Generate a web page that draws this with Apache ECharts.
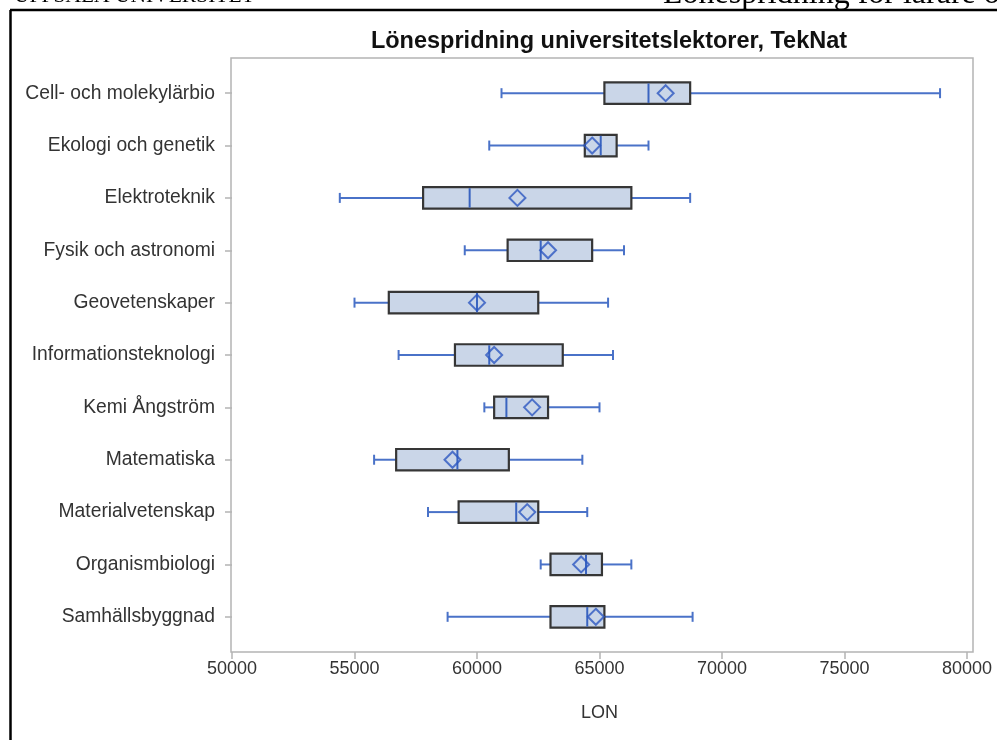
<!DOCTYPE html>
<html>
<head>
<meta charset="utf-8">
<script src="https://cdn.jsdelivr.net/npm/echarts@6/dist/echarts.min.js"></script>
<style>html,body{margin:0;padding:0;background:#fff;}#c{width:997px;height:740px;}</style>
</head>
<body>
<div id="c"></div>
<script>
const categories = ["Cell- och molekylärbio","Ekologi och genetik","Elektroteknik","Fysik och astronomi","Geovetenskaper","Informationsteknologi","Kemi Ångström","Matematiska","Materialvetenskap","Organismbiologi","Samhällsbyggnad"];
const whiskerLow  = [61000, 60500, 54400, 59500, 55000, 56800, 60300, 55800, 58000, 62600, 58800];
const q1          = [65200, 64400, 57800, 61250, 56400, 59100, 60700, 56700, 59250, 63000, 63000];
const median      = [67000, 65050, 59700, 62600, 60000, 60500, 61200, 59200, 61600, 64450, 64500];
const q3          = [68700, 65700, 66300, 64700, 62500, 63500, 62900, 61300, 62500, 65100, 65200];
const whiskerHigh = [78900, 67000, 68700, 66000, 65350, 65550, 65000, 64300, 64500, 66300, 68800];
const means       = [67700, 64700, 61650, 62900, 60000, 60700, 62250, 59000, 62050, 64250, 64850];
const xTicks = [50000, 55000, 60000, 65000, 70000, 75000, 80000];

const boxData = categories.map((c, i) => [i, whiskerLow[i], q1[i], median[i], q3[i], whiskerHigh[i]]);
const meanData = categories.map((c, i) => [means[i], i]);

const WHISK = '#4a72c8', BOXFILL = '#cad6e8', BOXLINE = '#363636', MED = '#3a64c0', MEAN = '#2d58c0';

const chart = echarts.init(document.getElementById('c'), null, {renderer: 'canvas'});
chart.setOption({
  animation: false,
  backgroundColor: '#fff',
  title: {
    text: 'Lönespridning universitetslektorer, TekNat',
    left: 604, top: 25, textAlign: 'center',
    textStyle: {fontFamily: 'Liberation Sans', fontWeight: 'bold', fontSize: 23.5, color: '#111'}
  },
  graphic: [
    {type: 'text', left: 14, top: -15, silent: true,
     style: {text: 'UPPSALA UNIVERSITET', font: '21.5px "Liberation Serif"', fill: '#000'}},
    {type: 'text', left: 663, top: -21, silent: true,
     style: {text: 'Lönespridning för lärare och forskare', font: '32px "Liberation Serif"', fill: '#000'}},
    {type: 'line', silent: true, shape: {x1: 10, y1: 10, x2: 997, y2: 10}, style: {stroke: '#000', lineWidth: 2.5}},
    {type: 'line', silent: true, shape: {x1: 10.5, y1: 10, x2: 10.5, y2: 740}, style: {stroke: '#000', lineWidth: 2.5}},
    {type: 'rect', silent: true, z: 0, shape: {x: 231, y: 58, width: 742, height: 594},
     style: {fill: 'none', stroke: '#b4b4b4', lineWidth: 1.5}}
  ],
  grid: {left: 232, right: 30, top: 67, bottom: 97},
  xAxis: {
    type: 'value', min: 50000, max: 80000, interval: 5000, offset: 9,
    name: 'LON', nameLocation: 'middle', nameGap: 52,
    nameTextStyle: {fontFamily: 'Liberation Sans', fontSize: 18, color: '#333'},
    axisLine: {show: false},
    axisTick: {show: true, length: 7, lineStyle: {color: '#b4b4b4', width: 1.5}, customValues: xTicks},
    axisLabel: {fontFamily: 'Liberation Sans', fontSize: 18, color: '#333', margin: 8, customValues: xTicks,
                formatter: function (v) { return String(v); }},
    splitLine: {show: false}
  },
  yAxis: {
    type: 'category', data: categories, inverse: true,
    axisLine: {show: false},
    axisTick: {show: true, alignWithLabel: true, length: 7, lineStyle: {color: '#b4b4b4', width: 1.5}},
    axisLabel: {fontFamily: 'Liberation Sans', fontSize: 19.3, color: '#333', margin: 17},
    splitLine: {show: false}
  },
  series: [
    {
      type: 'custom',
      data: boxData,
      encode: {x: [1, 2, 3, 4, 5], y: 0},
      z: 2,
      renderItem: function (params, api) {
        const cat = api.value(0);
        const lo = api.coord([api.value(1), cat]);
        const a = api.coord([api.value(2), cat]);
        const m = api.coord([api.value(3), cat]);
        const b = api.coord([api.value(4), cat]);
        const hi = api.coord([api.value(5), cat]);
        const band = api.size([0, 1])[1];
        const hh = band * 0.205;
        const ch = 5;
        const y = lo[1];
        const wl = {stroke: WHISK, lineWidth: 2};
        return {
          type: 'group',
          children: [
            {type: 'line', shape: {x1: lo[0], y1: y, x2: a[0], y2: y}, style: wl},
            {type: 'line', shape: {x1: b[0], y1: y, x2: hi[0], y2: y}, style: wl},
            {type: 'line', shape: {x1: lo[0], y1: y - ch, x2: lo[0], y2: y + ch}, style: wl},
            {type: 'line', shape: {x1: hi[0], y1: y - ch, x2: hi[0], y2: y + ch}, style: wl},
            {type: 'rect', shape: {x: a[0], y: y - hh, width: b[0] - a[0], height: 2 * hh},
             style: {fill: BOXFILL, stroke: BOXLINE, lineWidth: 2.2}},
            {type: 'line', shape: {x1: m[0], y1: y - hh + 1, x2: m[0], y2: y + hh - 1},
             style: {stroke: MED, lineWidth: 2}}
          ]
        };
      }
    },
    {
      type: 'scatter',
      data: meanData,
      z: 3,
      symbol: 'diamond',
      symbolSize: [16, 16],
      itemStyle: {color: 'rgba(0,0,0,0)', borderColor: MEAN, borderWidth: 2}
    }
  ]
});
</script>
</body>
</html>
